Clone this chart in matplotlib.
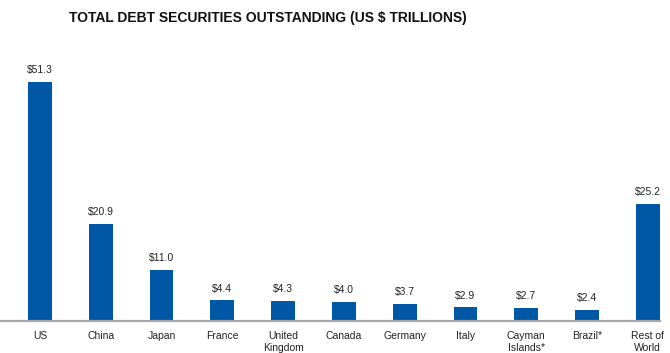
import matplotlib
matplotlib.use("Agg")
import matplotlib.pyplot as plt

categories = ["US", "China", "Japan", "France", "United\nKingdom", "Canada",
              "Germany", "Italy", "Cayman\nIslands*", "Brazil*", "Rest of\nWorld"]
values = [51.3, 20.9, 11.0, 4.4, 4.3, 4.0, 3.7, 2.9, 2.7, 2.4, 25.2]
title = "TOTAL DEBT SECURITIES OUTSTANDING (US $ TRILLIONS)"

plt.rcParams['font.family'] = ['Liberation Sans', 'DejaVu Sans']

fig = plt.figure(figsize=(6.70, 3.53), dpi=100)
ax = fig.add_axes([0, 32/353, 660/670, 279.6/353])

x = list(range(len(categories)))
bars = ax.bar(x, values, width=0.39, color="#0057A5")
ax.set_xlim(-0.658, 10.2)
ax.set_ylim(0, 60)

for xi, v in zip(x, values):
    ax.annotate(f"${v:.1f}", (xi, v), xytext=(0, 5), textcoords="offset points",
                ha="center", va="bottom", fontsize=7.5, color="#222222")

ax.set_xticks(x)
ax.set_xticklabels(categories, fontsize=7.5, color="#222222", linespacing=1.25, va="top")
ax.tick_params(axis="x", length=0, pad=7)
ax.set_yticks([])
for s in ["top", "right", "left"]:
    ax.spines[s].set_visible(False)
ax.spines["bottom"].set_color("#A6A6A6")
ax.spines["bottom"].set_linewidth(1.6)

fig.text(268/670, 1 - 18/353, title, ha="center", va="center", fontsize=10,
         fontweight="bold", color="#111111")

fig.savefig("out.png", dpi=100)
